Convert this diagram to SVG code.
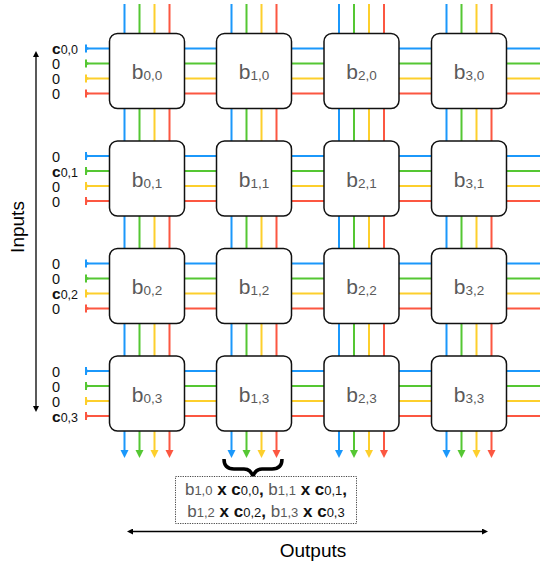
<svg xmlns="http://www.w3.org/2000/svg" width="540" height="566" viewBox="0 0 540 566">
<style>
.ln{fill:none;stroke-width:2}
.b{stroke:#1b98fb}.g{stroke:#55c733}.y{stroke:#fdcf2c}.r{stroke:#fc5741}
.nd{fill:#fff;stroke:#111;stroke-width:1.5}
.nl{font-family:"Liberation Sans",Arial,sans-serif;font-size:21px;fill:#5a5a5a;text-anchor:middle}
.ns{font-size:13.5px}
.il{font-family:"Liberation Sans",Arial,sans-serif;font-size:14.5px;fill:#111}
.ic{font-weight:bold;font-size:15.5px}
.is{font-size:12.5px;font-weight:normal}
.bx{font-family:"Liberation Sans",Arial,sans-serif;font-size:17px;fill:#111;text-anchor:middle}
.gy{fill:#5a5a5a}
.bs{font-size:13px}
.bd{font-weight:bold}
.ax{fill:none;stroke:#000;stroke-width:1.3}
.lab{font-family:"Liberation Sans",Arial,sans-serif;font-size:19px;fill:#000;text-anchor:middle}
</style>
<defs>
<marker id="ab" markerUnits="userSpaceOnUse" markerWidth="10" markerHeight="10" refX="2" refY="4" orient="auto"><path d="M0,0 L8,4 L0,8 z" fill="#1b98fb"/></marker>
<marker id="ag" markerUnits="userSpaceOnUse" markerWidth="10" markerHeight="10" refX="2" refY="4" orient="auto"><path d="M0,0 L8,4 L0,8 z" fill="#55c733"/></marker>
<marker id="ay" markerUnits="userSpaceOnUse" markerWidth="10" markerHeight="10" refX="2" refY="4" orient="auto"><path d="M0,0 L8,4 L0,8 z" fill="#fdcf2c"/></marker>
<marker id="ar" markerUnits="userSpaceOnUse" markerWidth="10" markerHeight="10" refX="2" refY="4" orient="auto"><path d="M0,0 L8,4 L0,8 z" fill="#fc5741"/></marker>
<marker id="tb" markerUnits="userSpaceOnUse" markerWidth="8" markerHeight="10" refX="1" refY="5" orient="auto"><path d="M0,1 H2 V3.5 L5,5 L2,6.5 V9 H0 z" fill="#1b98fb"/></marker>
<marker id="tg" markerUnits="userSpaceOnUse" markerWidth="8" markerHeight="10" refX="1" refY="5" orient="auto"><path d="M0,1 H2 V3.5 L5,5 L2,6.5 V9 H0 z" fill="#55c733"/></marker>
<marker id="ty" markerUnits="userSpaceOnUse" markerWidth="8" markerHeight="10" refX="1" refY="5" orient="auto"><path d="M0,1 H2 V3.5 L5,5 L2,6.5 V9 H0 z" fill="#fdcf2c"/></marker>
<marker id="tr" markerUnits="userSpaceOnUse" markerWidth="8" markerHeight="10" refX="1" refY="5" orient="auto"><path d="M0,1 H2 V3.5 L5,5 L2,6.5 V9 H0 z" fill="#fc5741"/></marker>
<marker id="ak" markerUnits="userSpaceOnUse" markerWidth="8" markerHeight="8" refX="1" refY="3" orient="auto"><path d="M0,0 L6,3 L0,6 z" fill="#000"/></marker>
<marker id="aks" markerUnits="userSpaceOnUse" markerWidth="8" markerHeight="8" refX="5" refY="3" orient="auto"><path d="M6,0 L0,3 L6,6 z" fill="#000"/></marker>
</defs>

<g id="connectors">
<path class="ln b" d="M124.5,4 V452" marker-end="url(#ab)"/>
<path class="ln g" d="M139.5,4 V452" marker-end="url(#ag)"/>
<path class="ln y" d="M154.5,4 V452" marker-end="url(#ay)"/>
<path class="ln r" d="M169.5,4 V452" marker-end="url(#ar)"/>
<path class="ln b" d="M231.5,4 V452" marker-end="url(#ab)"/>
<path class="ln g" d="M246.5,4 V452" marker-end="url(#ag)"/>
<path class="ln y" d="M261.5,4 V452" marker-end="url(#ay)"/>
<path class="ln r" d="M276.5,4 V452" marker-end="url(#ar)"/>
<path class="ln b" d="M339,4 V452" marker-end="url(#ab)"/>
<path class="ln g" d="M354,4 V452" marker-end="url(#ag)"/>
<path class="ln y" d="M369,4 V452" marker-end="url(#ay)"/>
<path class="ln r" d="M384,4 V452" marker-end="url(#ar)"/>
<path class="ln b" d="M446.5,4 V452" marker-end="url(#ab)"/>
<path class="ln g" d="M461.5,4 V452" marker-end="url(#ag)"/>
<path class="ln y" d="M476.5,4 V452" marker-end="url(#ay)"/>
<path class="ln r" d="M491.5,4 V452" marker-end="url(#ar)"/>
<path class="ln b" d="M86,48.5 H540" marker-start="url(#tb)"/>
<path class="ln g" d="M86,63.5 H540" marker-start="url(#tg)"/>
<path class="ln y" d="M86,78.5 H540" marker-start="url(#ty)"/>
<path class="ln r" d="M86,93.5 H540" marker-start="url(#tr)"/>
<path class="ln b" d="M86,156 H540" marker-start="url(#tb)"/>
<path class="ln g" d="M86,171 H540" marker-start="url(#tg)"/>
<path class="ln y" d="M86,186 H540" marker-start="url(#ty)"/>
<path class="ln r" d="M86,201 H540" marker-start="url(#tr)"/>
<path class="ln b" d="M86,263.5 H540" marker-start="url(#tb)"/>
<path class="ln g" d="M86,278.5 H540" marker-start="url(#tg)"/>
<path class="ln y" d="M86,293.5 H540" marker-start="url(#ty)"/>
<path class="ln r" d="M86,308.5 H540" marker-start="url(#tr)"/>
<path class="ln b" d="M86,371 H540" marker-start="url(#tb)"/>
<path class="ln g" d="M86,386 H540" marker-start="url(#tg)"/>
<path class="ln y" d="M86,401 H540" marker-start="url(#ty)"/>
<path class="ln r" d="M86,416 H540" marker-start="url(#tr)"/>
<path class="ax" d="M36,56 V407" marker-start="url(#aks)" marker-end="url(#ak)"/>
<path class="ax" d="M132,531.5 H483" marker-start="url(#aks)" marker-end="url(#ak)"/>
<path d="M224,459 Q224,469 234,469 L244,469 Q251,469 253,477 Q255,469 262,469 L272,469 Q282,469 282,459" fill="none" stroke="#000" stroke-width="3.5"/>
</g>

<g id="n00"><rect class="nd" x="109.5" y="33.5" width="75" height="75" rx="8"/><text class="nl" x="147" y="79">b<tspan class="ns" dy="1">0,0</tspan></text></g>
<g id="n10"><rect class="nd" x="216.5" y="33.5" width="75" height="75" rx="8"/><text class="nl" x="254" y="79">b<tspan class="ns" dy="1">1,0</tspan></text></g>
<g id="n20"><rect class="nd" x="324" y="33.5" width="75" height="75" rx="8"/><text class="nl" x="361.5" y="79">b<tspan class="ns" dy="1">2,0</tspan></text></g>
<g id="n30"><rect class="nd" x="431.5" y="33.5" width="75" height="75" rx="8"/><text class="nl" x="469" y="79">b<tspan class="ns" dy="1">3,0</tspan></text></g>

<g id="n01"><rect class="nd" x="109.5" y="141" width="75" height="75" rx="8"/><text class="nl" x="147" y="186.5">b<tspan class="ns" dy="1">0,1</tspan></text></g>
<g id="n11"><rect class="nd" x="216.5" y="141" width="75" height="75" rx="8"/><text class="nl" x="254" y="186.5">b<tspan class="ns" dy="1">1,1</tspan></text></g>
<g id="n21"><rect class="nd" x="324" y="141" width="75" height="75" rx="8"/><text class="nl" x="361.5" y="186.5">b<tspan class="ns" dy="1">2,1</tspan></text></g>
<g id="n31"><rect class="nd" x="431.5" y="141" width="75" height="75" rx="8"/><text class="nl" x="469" y="186.5">b<tspan class="ns" dy="1">3,1</tspan></text></g>

<g id="n02"><rect class="nd" x="109.5" y="248.5" width="75" height="75" rx="8"/><text class="nl" x="147" y="294">b<tspan class="ns" dy="1">0,2</tspan></text></g>
<g id="n12"><rect class="nd" x="216.5" y="248.5" width="75" height="75" rx="8"/><text class="nl" x="254" y="294">b<tspan class="ns" dy="1">1,2</tspan></text></g>
<g id="n22"><rect class="nd" x="324" y="248.5" width="75" height="75" rx="8"/><text class="nl" x="361.5" y="294">b<tspan class="ns" dy="1">2,2</tspan></text></g>
<g id="n32"><rect class="nd" x="431.5" y="248.5" width="75" height="75" rx="8"/><text class="nl" x="469" y="294">b<tspan class="ns" dy="1">3,2</tspan></text></g>

<g id="n03"><rect class="nd" x="109.5" y="356" width="75" height="75" rx="8"/><text class="nl" x="147" y="401.5">b<tspan class="ns" dy="1">0,3</tspan></text></g>
<g id="n13"><rect class="nd" x="216.5" y="356" width="75" height="75" rx="8"/><text class="nl" x="254" y="401.5">b<tspan class="ns" dy="1">1,3</tspan></text></g>
<g id="n23"><rect class="nd" x="324" y="356" width="75" height="75" rx="8"/><text class="nl" x="361.5" y="401.5">b<tspan class="ns" dy="1">2,3</tspan></text></g>
<g id="n33"><rect class="nd" x="431.5" y="356" width="75" height="75" rx="8"/><text class="nl" x="469" y="401.5">b<tspan class="ns" dy="1">3,3</tspan></text></g>

<g id="inputs-labels">
<text class="il" x="52" y="54"><tspan class="ic">c</tspan><tspan class="is">0,0</tspan></text>
<text class="il" x="52" y="69">0</text>
<text class="il" x="52" y="84">0</text>
<text class="il" x="52" y="99">0</text>
<text class="il" x="52" y="161.5">0</text>
<text class="il" x="52" y="176.5"><tspan class="ic">c</tspan><tspan class="is">0,1</tspan></text>
<text class="il" x="52" y="191.5">0</text>
<text class="il" x="52" y="206.5">0</text>
<text class="il" x="52" y="269">0</text>
<text class="il" x="52" y="284">0</text>
<text class="il" x="52" y="299"><tspan class="ic">c</tspan><tspan class="is">0,2</tspan></text>
<text class="il" x="52" y="314">0</text>
<text class="il" x="52" y="376.5">0</text>
<text class="il" x="52" y="391.5">0</text>
<text class="il" x="52" y="406.5">0</text>
<text class="il" x="52" y="421.5"><tspan class="ic">c</tspan><tspan class="is">0,3</tspan></text>
</g>

<g id="result">
<rect x="175.5" y="476.5" width="181" height="47" fill="#fff" stroke="#444" stroke-width="1" stroke-dasharray="1.2 1.2"/>
<text class="bx" x="266" y="495"><tspan class="gy">b</tspan><tspan class="gy bs">1,0</tspan><tspan class="bd"> x c</tspan><tspan class="bs">0,0</tspan><tspan class="bd">, </tspan><tspan class="gy">b</tspan><tspan class="gy bs">1,1</tspan><tspan class="bd"> x c</tspan><tspan class="bs">0,1</tspan><tspan class="bd">,</tspan></text>
<text class="bx" x="266" y="517"><tspan class="gy">b</tspan><tspan class="gy bs">1,2</tspan><tspan class="bd"> x c</tspan><tspan class="bs">0,2</tspan><tspan class="bd">, </tspan><tspan class="gy">b</tspan><tspan class="gy bs">1,3</tspan><tspan class="bd"> x c</tspan><tspan class="bs">0,3</tspan></text>
</g>

<text class="lab" transform="translate(24,227) rotate(-90)" x="0" y="0">Inputs</text>
<text class="lab" x="313" y="557">Outputs</text>
</svg>
